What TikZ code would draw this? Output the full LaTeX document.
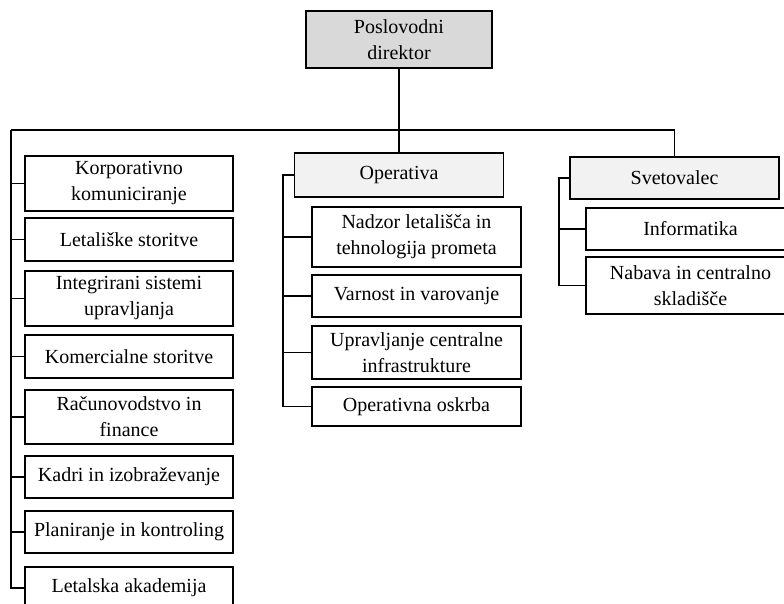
\documentclass[tikz,border=0pt]{standalone}
\usepackage{fontspec}
\setmainfont{Liberation Serif}
\usepackage{xcolor}
\usepackage{tikz}
\usetikzlibrary{positioning}
\definecolor{headgray}{HTML}{D9D9D9}
\definecolor{subgray}{HTML}{F2F2F2}

\begin{document}
\begin{tikzpicture}[x=1pt, y=-1pt, line width=1.1pt,
    unit/.style={draw, rectangle, inner sep=0pt, align=center, minimum width=208pt, font=\fontsize{20}{26}\selectfont},
    head/.style={unit, fill=subgray, minimum width=209pt}]
    \useasboundingbox (0,0) rectangle (784,604);
    \begin{scope}
    \clip (0,0) rectangle (784,604);
    % Top
    \node[unit, fill=headgray, minimum width=186pt, minimum height=57pt] (pd) at (399,39.5) {Poslovodni\\direktor};
    \coordinate (busL) at (11,130);
    \coordinate (busR) at (674.5,130);
    % Left column
    \node[unit, minimum height=55pt] (kom) at (129,183.5) {Korporativno\\komuniciranje};
    \node[unit, minimum height=43pt] (let) at (129,239.5) {Letališke storitve};
    \node[unit, minimum height=55pt] (iso) at (129,298.5) {Integrirani sistemi\\upravljanja};
    \node[unit, minimum height=43pt] (kst) at (129,356.5) {Komercialne storitve};
    \node[unit, minimum height=54pt] (rac) at (129,417) {Računovodstvo in\\finance};
    \node[unit, minimum height=42pt] (kad) at (129,477) {Kadri in izobraževanje};
    \node[unit, minimum height=42pt] (pla) at (129,532) {Planiranje in kontroling};
    \node[unit, minimum height=42pt] (aka) at (129,588) {Letalska akademija};
    % Operativa
    \node[head, minimum height=44pt] (op) at (399,175) {Operativa};
    \coordinate (opbr) at (283,175);
    \node[unit, minimum width=209pt, minimum height=60pt] (nad) at (416.5,237) {Nadzor letališča in\\tehnologija prometa};
    \node[unit, minimum width=209pt, minimum height=42pt] (var) at (416.5,296) {Varnost in varovanje};
    \node[unit, minimum width=209pt, minimum height=53pt] (upr) at (416.5,352.5) {Upravljanje centralne\\infrastrukture};
    \node[unit, minimum width=209pt, minimum height=39pt] (osk) at (416.5,406.5) {Operativna oskrba};
    % Svetovalec
    \node[head, minimum height=42pt] (sv) at (674.5,178) {Svetovalec};
    \coordinate (svbr) at (559,178);
    \node[unit, minimum width=209pt, minimum height=42pt] (inf) at (690.5,229) {Informatika};
    \node[unit, minimum width=209pt, minimum height=57pt] (nab) at (690.5,285.5) {Nabava in centralno\\skladišče};
    % Connectors
    \draw (pd) -- (op);
    \draw (busL) -- (busR) -- (sv);
    \draw (busL) |- (kom.west);
    \draw (busL) |- (let.west);
    \draw (busL) |- (iso.west);
    \draw (busL) |- (kst.west);
    \draw (busL) |- (rac.west);
    \draw (busL) |- (kad.west);
    \draw (busL) |- (pla.west);
    \draw (busL) |- (aka.west);
    \draw (op.west) -- (opbr) |- (nad.west);
    \draw (opbr) |- (var.west);
    \draw (opbr) |- (upr.west);
    \draw (opbr) |- (osk.west);
    \draw (sv.west) -- (svbr) |- (inf.west);
    \draw (svbr) |- (nab.west);
    \end{scope}
\end{tikzpicture}
\end{document}
